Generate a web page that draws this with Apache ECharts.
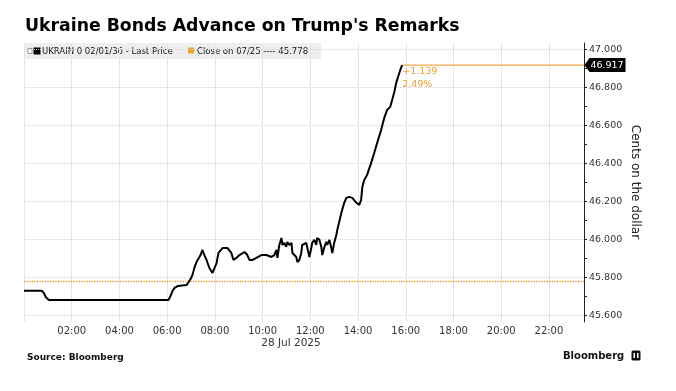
<!DOCTYPE html>
<html><head><meta charset="utf-8">
<script src="https://cdn.jsdelivr.net/npm/echarts@6/dist/echarts.min.js"></script>
<style>html,body{margin:0;padding:0;background:#fff}#c{width:676px;height:391px}</style>
</head><body><div id="c"></div>
<script>
// ---- data (hours after midnight, 28 Jul 2025) ----
const hours = [0, 0.745, 0.83, 0.91, 1.04, 6.06, 6.14, 6.23, 6.31, 6.44, 6.82, 6.90, 6.98, 7.06, 7.15, 7.23, 7.27, 7.40, 7.48, 7.52, 7.65, 7.77, 7.90, 7.98, 8.07, 8.15, 8.32, 8.53, 8.69, 8.78, 8.90, 9.03, 9.24, 9.36, 9.45, 9.57, 9.74, 9.95, 10.16, 10.37, 10.49, 10.58, 10.62, 10.70, 10.79, 10.83, 10.91, 10.99, 11.04, 11.12, 11.21, 11.25, 11.33, 11.41, 11.46, 11.54, 11.62, 11.66, 11.83, 11.87, 11.96, 12.04, 12.08, 12.17, 12.25, 12.29, 12.38, 12.46, 12.50, 12.59, 12.67, 12.71, 12.80, 12.88, 12.92, 13.00, 13.09, 13.13, 13.30, 13.42, 13.51, 13.63, 13.76, 13.93, 14.05, 14.13, 14.18, 14.26, 14.38, 14.55, 14.68, 14.80, 14.97, 15.10, 15.22, 15.35, 15.43, 15.52, 15.60, 15.68, 15.77, 15.85];
const prices = [45.729, 45.729, 45.718, 45.696, 45.681, 45.681, 45.702, 45.729, 45.744, 45.754, 45.760, 45.775, 45.791, 45.812, 45.854, 45.880, 45.870, 45.917, 45.944, 45.928, 45.891, 45.849, 45.823, 45.828, 45.875, 45.928, 45.954, 45.954, 45.928, 45.891, 45.902, 45.917, 45.933, 45.917, 45.891, 45.891, 45.902, 45.917, 45.917, 45.907, 45.917, 45.944, 45.902, 45.970, 46.007, 45.970, 45.981, 45.960, 45.986, 45.970, 45.981, 45.928, 45.933, 45.907, 45.880, 45.891, 45.928, 45.970, 45.981, 45.981, 45.907, 45.954, 45.981, 45.997, 45.970, 46.007, 45.997, 45.960, 45.917, 45.960, 45.986, 45.970, 45.997, 45.954, 45.928, 45.981, 46.023, 46.049, 46.139, 46.192, 46.218, 46.223, 46.218, 46.192, 46.181, 46.207, 46.276, 46.312, 46.339, 46.402, 46.455, 46.507, 46.576, 46.639, 46.681, 46.697, 46.733, 46.775, 46.823, 46.855, 46.891, 46.917];
const prevClose = 45.778;
const seriesName = 'UKRAIN 0 02/01/36 - Last Price';
const closeName = 'Close on 07/25';
const yTickValues = [45.6, 45.8, 46.0, 46.2, 46.4, 46.6, 46.8, 47.0];
const yMinorTickValues = [45.6, 45.7, 45.8, 45.9, 46.0, 46.1, 46.2, 46.3, 46.4, 46.5, 46.6, 46.7, 46.8, 46.9, 47.0];
const xTickHours = [2, 4, 6, 8, 10, 12, 14, 16, 18, 20, 22];
const dateLabel = '28 Jul 2025';
const titleText = "Ukraine Bonds Advance on Trump's Remarks";
const sourceText = 'Source: Bloomberg';
const yAxisName = 'Cents on the dollar';

// ---- derived ----
const X_MAX = 23.47;
const lastH = hours[hours.length - 1];
const lastP = prices[prices.length - 1];
const chg = lastP - prevClose;
const pct = chg / prevClose * 100;
const ORANGE = '#eb9f35';
const FONT = '"DejaVu Sans", Verdana, sans-serif';
const pts = hours.map((h, i) => [h, prices[i]]);

const chart = echarts.init(document.getElementById('c'), null, {renderer: 'canvas'});
chart.setOption({
  animation: false,
  backgroundColor: '#fff',
  grid: {left: 24, right: 92, top: 43, bottom: 69, containLabel: false},
  xAxis: {
    type: 'value', min: 0, max: X_MAX, interval: 2,
    axisLine: {show: false, onZero: false}, axisTick: {show: false},
    axisLabel: {customValues: xTickHours, formatter: v => String(v).padStart(2, '0') + ':00',
      margin: 4, fontSize: 10, color: '#333', fontFamily: FONT},
    splitLine: {show: true, lineStyle: {color: '#e6e6e6', width: 1}}
  },
  yAxis: {
    type: 'value', position: 'right', min: 45.5647, max: 47.033,
    axisLine: {show: true, onZero: false, lineStyle: {color: '#222', width: 1}},
    axisTick: {show: true, customValues: yMinorTickValues, length: 3, lineStyle: {color: '#222'}},
    axisLabel: {customValues: yTickValues, formatter: v => v.toFixed(3), margin: 5,
      fontSize: 9.5, color: '#333', fontFamily: FONT},
    splitLine: {show: false}
  },
  series: [
    {
      type: 'line', name: 'grid', data: [], silent: true, z: 1,
      markLine: {silent: true, symbol: ['none', 'none'], label: {show: false},
        lineStyle: {color: '#d2d2d2', type: 'dotted', width: 1},
        data: yTickValues.map(v => ({yAxis: v}))}
    },
    {
      type: 'line', name: 'last', data: [[lastH, lastP], [X_MAX, lastP]], silent: true, z: 3,
      showSymbol: false, symbol: 'none', lineStyle: {color: '#f2a844', width: 1.2, type: 'solid'}
    },
    {
      type: 'line', name: seriesName, data: pts, showSymbol: false, z: 5,
      lineStyle: {color: '#000', width: 2}, itemStyle: {color: '#000'},
      endLabel: {show: true, formatter: () => '+' + chg.toFixed(3) + '\n' + pct.toFixed(2) + '%',
        color: ORANGE, fontSize: 9.5, fontFamily: FONT, lineHeight: 13.5, align: 'left',
        distance: 0, offset: [0, 13]},
      markLine: {silent: true, symbol: ['none', 'none'], label: {show: false},
        lineStyle: {color: '#ee9a28', type: 'dotted', width: 1.3, opacity: 1},
        data: [{yAxis: prevClose}]},
      markPoint: {silent: true,
        data: [{coord: [X_MAX, lastP], symbol: 'path://M0,7 L5,0 L41,0 L41,14 L5,14 Z',
          symbolSize: [41, 14], symbolKeepAspect: false, symbolOffset: [21, 0],
          itemStyle: {color: '#000'},
          label: {show: true, position: 'inside', offset: [2, 0], formatter: () => lastP.toFixed(3),
            color: '#fff', fontSize: 9.5, fontFamily: FONT}}]}
    }
  ],
  graphic: [
    {type: 'text', left: 25, top: 18, style: {text: titleText, font: 'bold 17.3px ' + FONT, fill: '#000'}},
    {type: 'rect', shape: {x: 25, y: 43, width: 296, height: 16}, style: {fill: 'rgba(0,0,0,0.065)'}, z: 0},
    {type: 'rect', shape: {x: 28, y: 48.5, width: 4, height: 5}, style: {fill: '#fff', stroke: '#999', lineWidth: 1}},
    {type: 'rect', shape: {x: 33.5, y: 47.5, width: 7, height: 7}, style: {fill: '#000'}},
    {type: 'text', x: 42, y: 51.5, style: {text: seriesName, font: '8.5px ' + FONT, fill: '#111', verticalAlign: 'middle'}},
    {type: 'rect', shape: {x: 188, y: 47.5, width: 6, height: 6}, style: {fill: '#f5a31e'}},
    {type: 'text', x: 197, y: 51.5, style: {text: closeName + ' ---- ' + prevClose.toFixed(3), font: '8.5px ' + FONT, fill: '#111', verticalAlign: 'middle'}},
    {type: 'text', x: 291, y: 343, style: {text: dateLabel, font: '10.5px ' + FONT, fill: '#333', align: 'center', verticalAlign: 'middle'}},
    {type: 'text', x: 635, y: 182, rotation: -Math.PI / 2, style: {text: yAxisName, font: '12px ' + FONT, fill: '#222', align: 'center', verticalAlign: 'middle'}},
    {type: 'text', x: 27, y: 357.5, style: {text: sourceText, font: 'bold 9px ' + FONT, fill: '#111', verticalAlign: 'middle'}},
    {type: 'text', x: 563, y: 356, style: {text: 'Bloomberg', font: 'bold 10px ' + FONT, fill: '#111', verticalAlign: 'middle'}},
    {type: 'rect', shape: {x: 631.5, y: 350.5, width: 9, height: 10, r: 1.5}, style: {fill: '#111'}},
    {type: 'rect', shape: {x: 633.5, y: 353, width: 1.5, height: 5}, style: {fill: '#fff'}},
    {type: 'rect', shape: {x: 637, y: 353, width: 1.5, height: 5}, style: {fill: '#fff'}}
  ]
});
</script></body></html>
